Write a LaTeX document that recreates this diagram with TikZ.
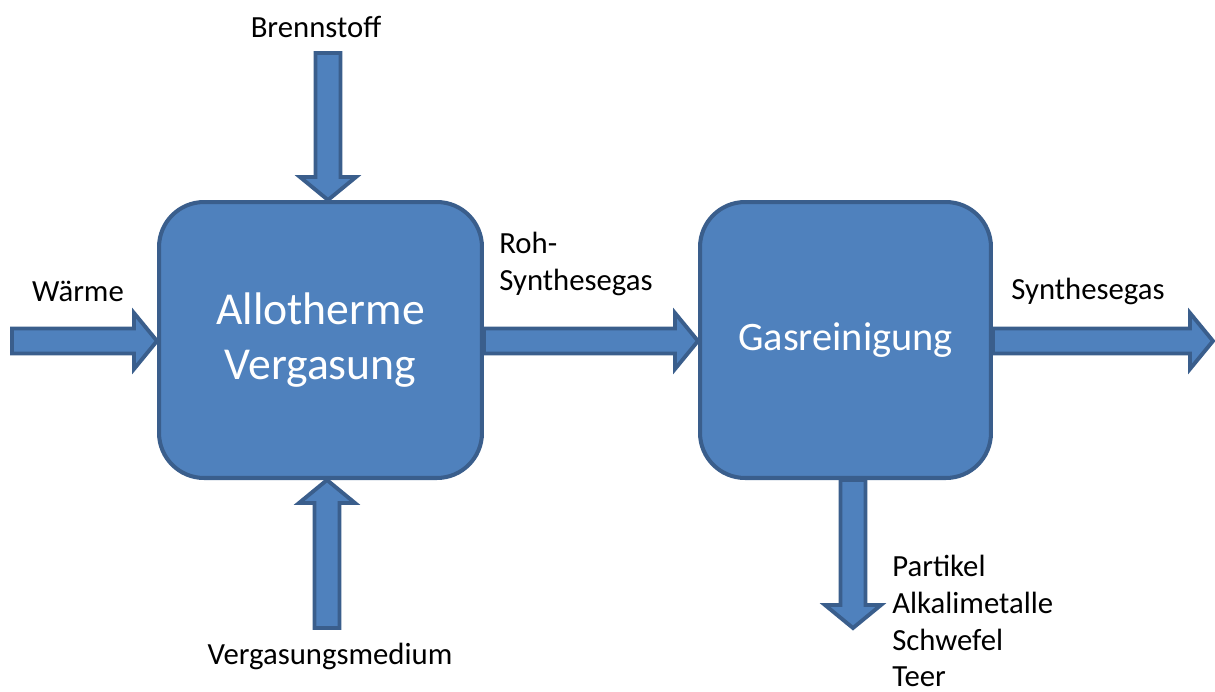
\documentclass[tikz,border=0pt]{standalone}
\usepackage{fontspec}
\setmainfont{Carlito}
\usetikzlibrary{calc}
\definecolor{boxfill}{HTML}{4F81BD}
\definecolor{boxline}{HTML}{3A5E8C}
\tikzset{
  process/.style={draw=boxline, fill=boxfill, line width=2.3pt, rounded corners=0.9cm,
    minimum width=6.46cm, minimum height=5.52cm, inner sep=0pt, align=center,
    text=white, font=\fontsize{26}{31}\selectfont},
  barrow/.style={draw=boxline, fill=boxfill, line width=2.2pt, line join=miter},
  label/.style={inner sep=0pt, font=\fontsize{17.5}{21}\selectfont, text=black},
}
% block arrow from #1 (tail) to #2 (tip)
\newcommand\blockarrow[2]{%
  \coordinate (ha) at ($(#2)!0.46cm!(#1)$);
  \draw[barrow]
    ($(#1)!0.25cm!90:(ha)$) -- ($(ha)!0.25cm!-90:(#1)$) -- ($(ha)!0.56cm!-90:(#1)$)
    -- (#2)
    -- ($(ha)!0.56cm!90:(#1)$) -- ($(ha)!0.25cm!90:(#1)$) -- ($(#1)!0.25cm!-90:(ha)$)
    -- cycle;}
\begin{document}
\begin{tikzpicture}[x=0.02cm, y=-0.02cm]
\useasboundingbox (0,0) rectangle (1215,691);

\node[process] (gas) at (320.5,340) {Allotherme\\Vergasung};
\node[process, minimum width=5.82cm, font=\fontsize{23}{28}\selectfont] (clean) at (845.5,340) {Gasreinigung};

% free ends of the flows
\coordinate (fuelTop) at (328,53);
\coordinate (heatLeft) at (12,341);
\coordinate (mediumBot) at (327,628);
\coordinate (outRight) at (1213,341);
\coordinate (wasteBot) at (853,628);

\blockarrow{fuelTop}{fuelTop |- gas.north}
\blockarrow{heatLeft}{heatLeft -| gas.west}
\blockarrow{mediumBot}{mediumBot |- gas.south}
\blockarrow{heatLeft -| gas.east}{heatLeft -| clean.west}
\blockarrow{outRight -| clean.east}{outRight}
\blockarrow{wasteBot |- clean.south}{wasteBot}

\node[label] (lfuel) at (316,27) {Brennstoff};
\node[label] (lheat) at (78,291) {Wärme};
\node[label] (lmedium) at (330,656) {Vergasungsmedium};
\node[label, anchor=west, align=left] (lraw) at (499,264) {Roh-\\Synthesegas};
\node[label] (lsyn) at (1088,291) {Synthesegas};
\node[label, anchor=west, align=left] (lwaste) at (892,621) {Partikel\\Alkalimetalle\\Schwefel\\Teer};
\end{tikzpicture}
\end{document}
